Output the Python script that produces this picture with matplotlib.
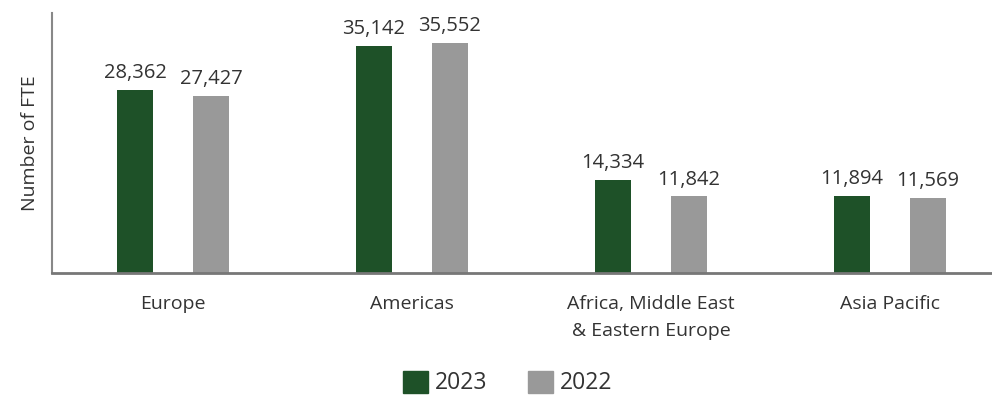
import numpy as np
import matplotlib
matplotlib.use('Agg')
import matplotlib.pyplot as plt
from matplotlib.patches import Patch

plt.rcParams['font.family'] = ['Open Sans', 'DejaVu Sans']

regions = ['Europe', 'Americas', 'Africa, Middle East\n& Eastern Europe', 'Asia Pacific']
fte_2023 = [28362, 35142, 14334, 11894]
fte_2022 = [27427, 35552, 11842, 11569]
years = ['2023', '2022']

GREEN = '#1e5128'
GREY = '#999999'
TEXT = '#333333'

fig = plt.figure(figsize=(9.92, 3.95), dpi=100)
ax = fig.add_axes([0.0524, 0.309, 0.9476, 0.658])

x = np.arange(len(regions))
w = 36 / 239
off = 38 / 239
b1 = ax.bar(x - off, fte_2023, width=w, color=GREEN)
b2 = ax.bar(x + off, fte_2022, width=w, color=GREY)

for bars in (b1, b2):
    for rect in bars:
        h = rect.get_height()
        ax.text(rect.get_x() + rect.get_width() / 2, h + 1050, f'{h:,.0f}',
                ha='center', va='bottom', fontsize=14.5, color=TEXT)

ax.set_xlim(-121 / 239, 3 + 102 / 239)
ax.set_ylim(0, 40200)
ax.set_xticks(x)
ax.set_xticklabels(regions, fontsize=14, color=TEXT, linespacing=1.6, va='top')
ax.tick_params(axis='x', length=0, pad=16)
ax.set_yticks([])
ax.set_ylabel('Number of FTE', fontsize=14, color=TEXT, labelpad=9)

for s in ('top', 'right'):
    ax.spines[s].set_visible(False)
ax.spines['left'].set_color('#888888')
ax.spines['bottom'].set_color('#777777')
ax.spines['left'].set_linewidth(1.5)
ax.spines['bottom'].set_linewidth(2)

handles = [Patch(color=GREEN), Patch(color=GREY)]
fig.legend(handles, years, loc='lower center', bbox_to_anchor=(0.512, -0.053), ncol=2,
           frameon=False, fontsize=16.5, handlelength=1.1, handleheight=1.1,
           columnspacing=1.75, handletextpad=0.3, labelcolor=TEXT)

fig.savefig('out.png', dpi=100)
